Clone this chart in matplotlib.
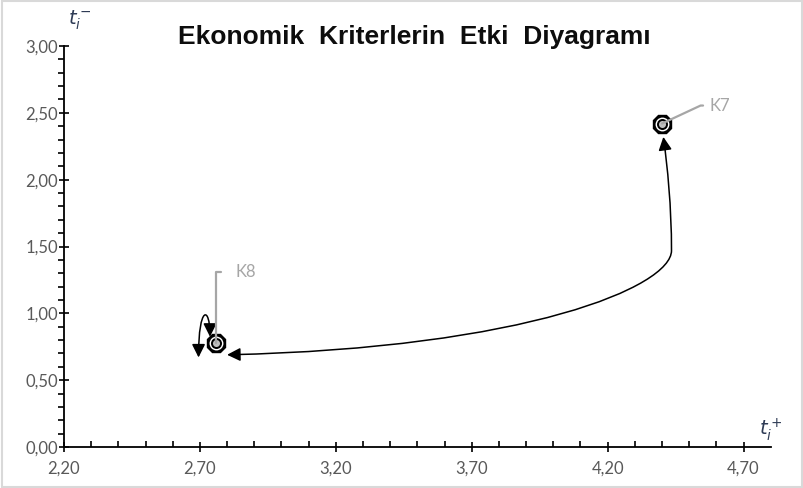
import numpy as np
import matplotlib
matplotlib.use("Agg")
import matplotlib.pyplot as plt
from matplotlib.path import Path
from matplotlib.patches import FancyArrowPatch, Rectangle
from matplotlib.ticker import FixedLocator, FuncFormatter

# criteria and their (t+, t-) coordinates
labels = ["K7", "K8"]
t_plus = [4.40, 2.76]
t_minus = [2.42, 0.78]

x_ticks = [2.20, 2.70, 3.20, 3.70, 4.20, 4.70]
y_ticks = [0.00, 0.50, 1.00, 1.50, 2.00, 2.50, 3.00]

title = "Ekonomik  Kriterlerin  Etki  Diyagramı"

plt.rcParams["font.family"] = ["Lato", "DejaVu Sans"]
plt.rcParams["mathtext.fontset"] = "dejavusans"

fig = plt.figure(figsize=(8.04, 4.88), dpi=100)
ax = fig.add_axes([0.0796, 0.084, 0.8790, 0.8217])

ax.set_xlim(2.20, 4.80)
ax.set_ylim(0.0, 3.0)

for s in ["top", "right"]:
    ax.spines[s].set_visible(False)
for s in ["left", "bottom"]:
    ax.spines[s].set_linewidth(1.3)
    ax.spines[s].set_color("black")

ax.xaxis.set_major_locator(FixedLocator(x_ticks))
ax.xaxis.set_minor_locator(FixedLocator(np.arange(2.2, 4.79, 0.1)))
ax.yaxis.set_major_locator(FixedLocator(y_ticks))
ax.yaxis.set_minor_locator(FixedLocator(np.arange(0.0, 3.01, 0.1)))
fmt = FuncFormatter(lambda v, p: f"{v:.2f}".replace(".", ","))
ax.xaxis.set_major_formatter(fmt)
ax.yaxis.set_major_formatter(fmt)

ax.tick_params(which="major", direction="inout", length=7, width=1.2,
               labelsize=12, labelcolor="#595959")
ax.tick_params(axis="x", which="major", pad=6)
ax.tick_params(axis="y", which="major", pad=1)
ax.tick_params(axis="x", which="minor", direction="in", length=4, width=1.2)
ax.tick_params(axis="y", which="minor", direction="out", length=4, width=1.2)

# connection K8 <-> K7 (curved connector)
x7, y7 = t_plus[0], t_minus[0]
x8, y8 = t_plus[1], t_minus[1]
bx = x7 + 0.035
by = 1.47
verts = [
    (x8 + 0.04, y8 - 0.09), (3.90, y8 - 0.04), (bx, by - 0.27), (bx, by),
    (bx, by + 0.33), (x7 + 0.02, y7 - 0.32), (x7 + 0.005, y7 - 0.10),
]
codes = [Path.MOVETO] + [Path.CURVE4] * 6
arr = FancyArrowPatch(path=Path(verts, codes), arrowstyle="<|-|>",
                      mutation_scale=20, color="black", lw=1.1,
                      transform=ax.transData, zorder=5)
ax.add_patch(arr)

# self loop on K8
loop = [(x8 - 0.023, y8 + 0.045), (x8 - 0.023, y8 + 0.28),
        (x8 - 0.065, y8 + 0.28), (x8 - 0.065, y8 - 0.11)]
loop_codes = [Path.MOVETO, Path.CURVE4, Path.CURVE4, Path.CURVE4]
arr2 = FancyArrowPatch(path=Path(loop, loop_codes), arrowstyle="<|-|>",
                       mutation_scale=20, color="black", lw=1.1,
                       transform=ax.transData, zorder=5)
ax.add_patch(arr2)

# markers
ax.plot(t_plus, t_minus, ls="none", marker="8", ms=14, color="black", zorder=4)
ax.plot(t_plus, t_minus, ls="none", marker="o", ms=9, color="white",
        mec="white", zorder=4)
ax.plot(t_plus, t_minus, ls="none", marker="o", ms=6.5, mfc="#bfbfbf",
        mec="black", mew=1.4, zorder=4)

# data labels with leader lines
gray = "#a6a6a6"
ax.annotate(labels[0], xy=(x7, y7), xytext=(48, 18), textcoords="offset pixels",
            fontsize=12, color=gray, va="center", ha="left",
            arrowprops=dict(arrowstyle="-", color=gray, lw=1.6, shrinkA=3,
                            shrinkB=0, relpos=(0, 0.5),
                            connectionstyle="angle,angleA=0,angleB=25,rad=0"),
            zorder=6)
ax.annotate(labels[1], xy=(x8, y8), xytext=(19, 71), textcoords="offset pixels",
            fontsize=12, color=gray, va="center", ha="left",
            arrowprops=dict(arrowstyle="-", color=gray, lw=1.6, shrinkA=8,
                            shrinkB=0, relpos=(0, 0.5),
                            connectionstyle="angle,angleA=0,angleB=90,rad=0"),
            zorder=6)

# axis names
fig.text(80 / 804, 1 - 20 / 488, r"$t_i^-$", fontsize=14, color="#2e3b55",
         ha="center", va="center")
fig.text(771 / 804, 1 - 430 / 488, r"$t_i^+$", fontsize=14, color="#2e3b55",
         ha="center", va="center")

fig.text(414 / 804, 1 - 37 / 488, title, fontsize=19, fontweight="bold",
         family=["Liberation Sans", "DejaVu Sans"], color="#0d0d0d",
         ha="center", va="center")

fig.patches.append(Rectangle((0.002, 0.003), 0.996, 0.994, transform=fig.transFigure,
                             fill=False, ec="#d9d9d9", lw=1.5))

fig.savefig("out.png", dpi=100)
